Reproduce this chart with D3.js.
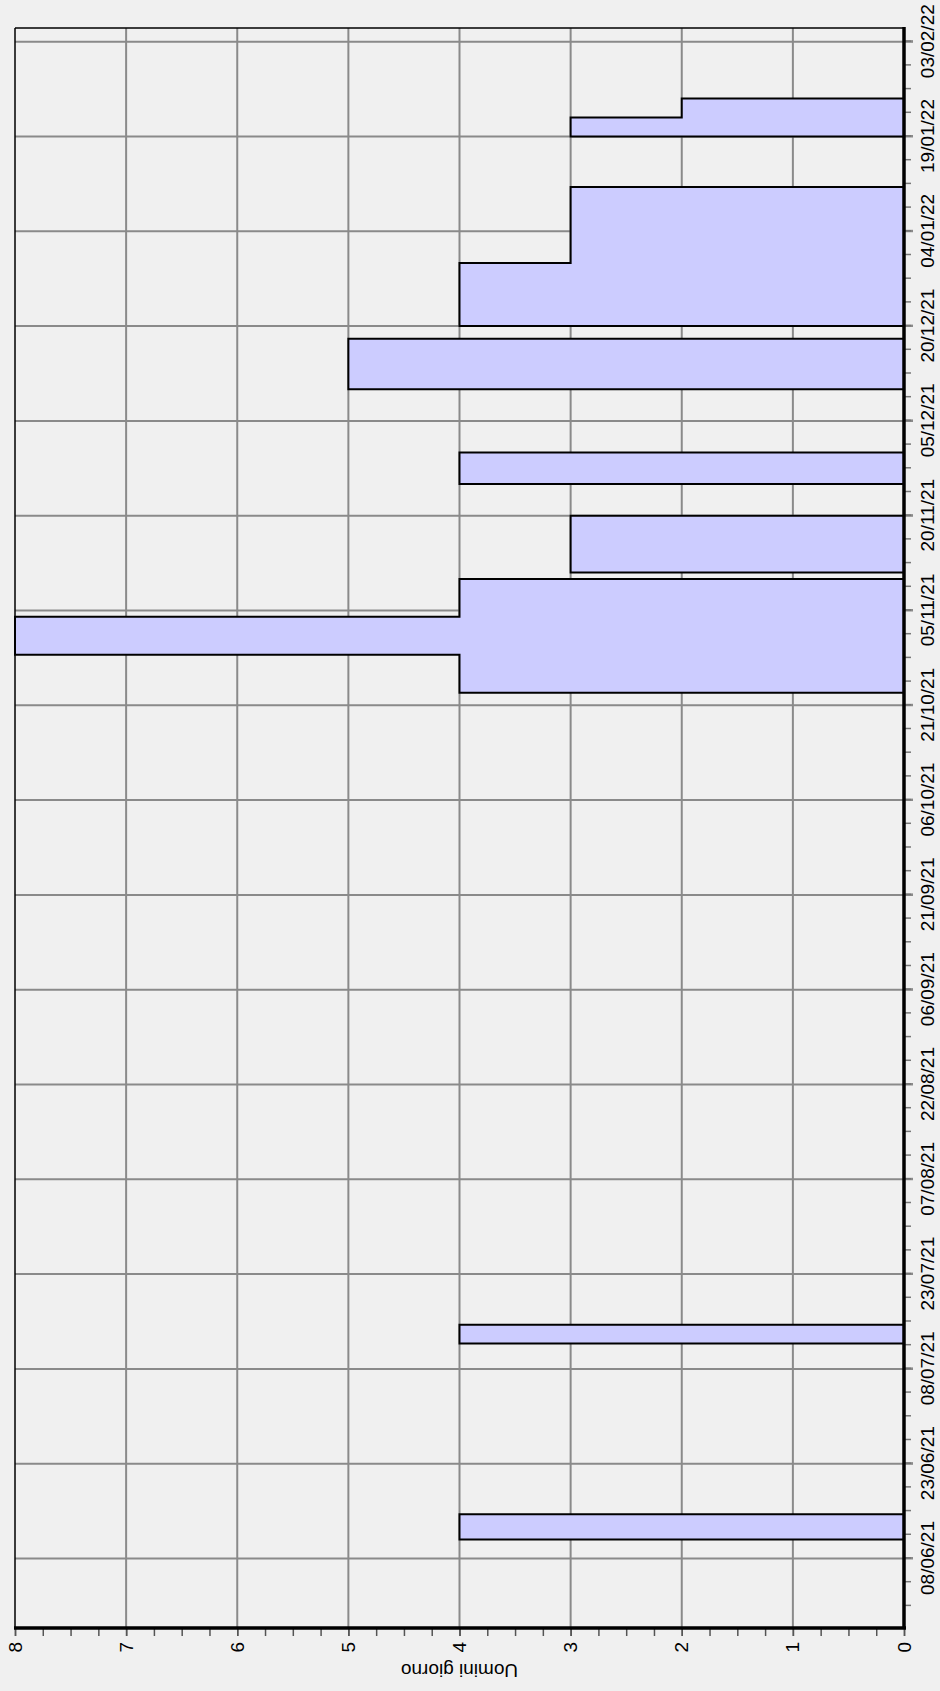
<!DOCTYPE html>
<html>
<head>
<meta charset="utf-8">
<script src="https://cdn.jsdelivr.net/npm/d3@7"></script>
<style>
  body { margin: 0; background: #f0f0f0; }
  text { font-family: "Liberation Sans", Arial, sans-serif; }
</style>
</head>
<body>
<svg id="chart" width="940" height="1691"></svg>
<script>
// bar segments: start day, end day, uomini giorno
var segStart = ["2021-06-11", "2021-07-12", "2021-10-23", "2021-10-29", "2021-11-04", "2021-11-11",
                "2021-11-25", "2021-12-10", "2021-12-20", "2021-12-30", "2022-01-19", "2022-01-22"];
var segEnd   = ["2021-06-15", "2021-07-15", "2021-10-29", "2021-11-04", "2021-11-10", "2021-11-20",
                "2021-11-30", "2021-12-18", "2021-12-30", "2022-01-11", "2022-01-22", "2022-01-25"];
var segValue = [4, 4, 4, 8, 4, 3, 4, 5, 4, 3, 3, 2];

// axis ticks
var dateTicks = ["2021-06-08", "2021-06-23", "2021-07-08", "2021-07-23", "2021-08-07", "2021-08-22",
                 "2021-09-06", "2021-09-21", "2021-10-06", "2021-10-21", "2021-11-05", "2021-11-20",
                 "2021-12-05", "2021-12-20", "2022-01-04", "2022-01-19", "2022-02-03"];
var valueTicks = [0, 1, 2, 3, 4, 5, 6, 7, 8];
var dateDomain = ["2021-05-28T00:00:00Z", "2022-02-05T04:00:00Z"];
var yTitle = "Uomini giorno";

var parse = function(s) { return new Date(s); };

// the chart is drawn as a normal (wide) chart and then turned 90deg counter-clockwise
var W = 1691, H = 940;
var margin = {top: 15, right: 28, bottom: 36, left: 63};

var svg = d3.select("#chart");
svg.append("rect").attr("width", 940).attr("height", 1691).attr("fill", "#f0f0f0");

var g = svg.append("g")
  .attr("transform", "translate(0," + W + ") rotate(-90)");

var x = d3.scaleUtc()
  .domain(dateDomain.map(parse))
  .range([margin.left, W - margin.right]);

var y = d3.scaleLinear()
  .domain([0, 8])
  .range([H - margin.bottom, margin.top]);

var x0 = x.range()[0], x1 = x.range()[1], y0 = y(0), yTop = y(8);

// minor date ticks: 4 steps between majors
var majors = dateTicks.map(parse);
var step = (majors[1] - majors[0]) / 4;
var minors = [];
for (var t = +majors[0] - step * 3; t <= +majors[majors.length - 1] + step * 3; t += step) {
  var dt = new Date(t);
  if (dt >= x.domain()[0] && dt <= x.domain()[1]) minors.push(dt);
}

// grid
g.append("g").selectAll("line")
  .data(valueTicks.filter(function(v) { return v > 0 && v < 8; }))
  .join("line")
  .attr("x1", x0).attr("x2", x1)
  .attr("y1", function(d) { return y(d); }).attr("y2", function(d) { return y(d); })
  .attr("stroke", "#8a8a8a").attr("stroke-width", 2);

g.append("g").selectAll("line")
  .data(majors)
  .join("line")
  .attr("x1", function(d) { return x(d); }).attr("x2", function(d) { return x(d); })
  .attr("y1", yTop).attr("y2", y0 + 9)
  .attr("stroke", "#8a8a8a").attr("stroke-width", 2);

// bars: contiguous segments share one outline
var groups = [];
segStart.forEach(function(s, i) {
  var seg = {start: parse(s), end: parse(segEnd[i]), value: segValue[i]};
  var last = groups[groups.length - 1];
  if (last && +last[last.length - 1].end === +seg.start) last.push(seg);
  else groups.push([seg]);
});

function outline(grp) {
  var p = d3.path();
  p.moveTo(x(grp[0].start), y(0));
  grp.forEach(function(d) {
    p.lineTo(x(d.start), y(d.value));
    p.lineTo(x(d.end), y(d.value));
  });
  p.lineTo(x(grp[grp.length - 1].end), y(0));
  p.closePath();
  return p.toString();
}

g.append("g").selectAll("path")
  .data(groups)
  .join("path")
  .attr("d", outline)
  .attr("fill", "#ccccff")
  .attr("stroke", "#000")
  .attr("stroke-width", 2)
  .attr("stroke-linejoin", "miter");

// date axis (bottom of the unrotated chart)
var xAxis = g.append("g")
  .attr("transform", "translate(0," + y0 + ")")
  .call(d3.axisBottom(x).tickValues(majors).tickFormat(d3.utcFormat("%d/%m/%y")).tickSize(9).tickPadding(8));
xAxis.select(".domain").remove();
xAxis.selectAll("line").attr("stroke", "#8a8a8a").attr("stroke-width", 2);
xAxis.selectAll("text").attr("font-size", 19).attr("fill", "#000")
  .style("font-family", "'Liberation Sans', Arial, sans-serif");

var xMinor = g.append("g")
  .attr("transform", "translate(0," + y0 + ")")
  .call(d3.axisBottom(x).tickValues(minors).tickFormat("").tickSize(7));
xMinor.select(".domain").remove();
xMinor.selectAll("line").attr("stroke", "#777").attr("stroke-width", 1.5);

// value axis (left of the unrotated chart)
var yAxis = g.append("g")
  .attr("transform", "translate(" + x0 + ",0)")
  .call(d3.axisLeft(y).tickValues(valueTicks).tickSize(8).tickPadding(6));
yAxis.select(".domain").remove();
yAxis.selectAll("line").attr("stroke", "#555").attr("stroke-width", 1.5);
yAxis.selectAll("text").attr("font-size", 19).attr("fill", "#000")
  .style("font-family", "'Liberation Sans', Arial, sans-serif");

var yMinor = g.append("g")
  .attr("transform", "translate(" + x0 + ",0)")
  .call(d3.axisLeft(y).tickValues(d3.range(0, 8.01, 0.25)).tickFormat("").tickSize(8));
yMinor.select(".domain").remove();
yMinor.selectAll("line").attr("stroke", "#555").attr("stroke-width", 1.5);

// frame: thin on top/right, heavy on the two axes
g.append("line").attr("x1", x0).attr("x2", x1).attr("y1", yTop).attr("y2", yTop)
  .attr("stroke", "#000").attr("stroke-width", 1.5);
g.append("line").attr("x1", x1).attr("x2", x1).attr("y1", yTop).attr("y2", y0)
  .attr("stroke", "#000").attr("stroke-width", 1.5);
g.append("line").attr("x1", x0).attr("x2", x1 + 1).attr("y1", y0).attr("y2", y0)
  .attr("stroke", "#000").attr("stroke-width", 3.5);
g.append("line").attr("x1", x0).attr("x2", x0).attr("y1", yTop - 1).attr("y2", y0 + 2)
  .attr("stroke", "#000").attr("stroke-width", 3.5);

// axis title
g.append("text")
  .attr("transform", "translate(27," + ((y0 + yTop) / 2) + ") rotate(-90)")
  .attr("text-anchor", "middle")
  .attr("font-size", 19)
  .text(yTitle);
</script>
</body>
</html>
